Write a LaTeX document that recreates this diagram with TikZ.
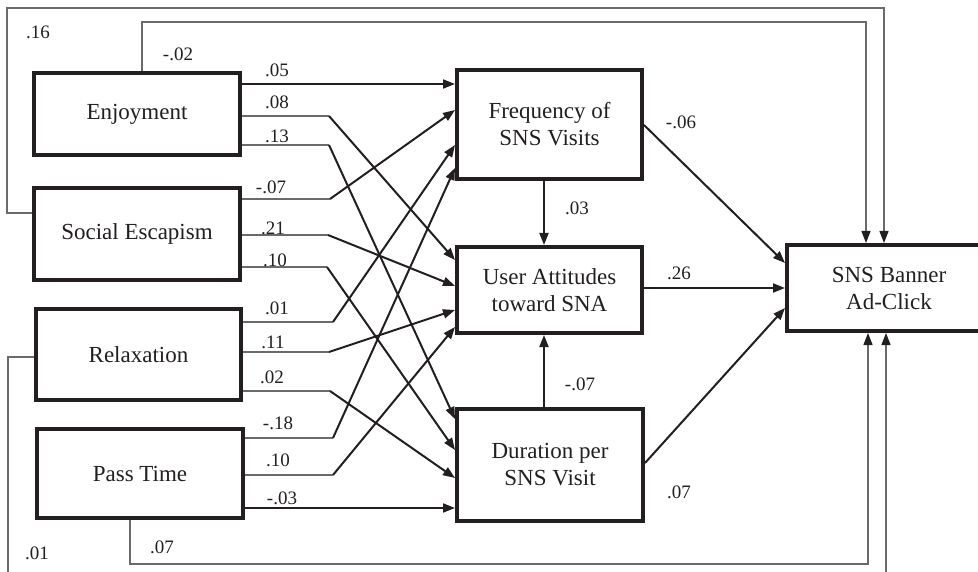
\documentclass[tikz,border=0pt]{standalone}
\usepackage{fontspec}
\setmainfont{Liberation Serif}
\usetikzlibrary{arrows.meta}
\definecolor{ink}{HTML}{231F20}
\definecolor{thin}{HTML}{6A6A6A}
\tikzset{
  box/.style={draw=ink, line width=4pt, align=center, text=ink,
    font=\fontsize{23}{27}\selectfont, inner sep=0pt},
  lbl/.style={font=\fontsize{19}{21}\selectfont, inner sep=0pt, text=ink},
  stub/.style={draw=thin, line width=1.3pt},
  arr/.style={draw=ink, line width=2pt, -{Triangle[length=12pt,width=9pt]}},
  loopln/.style={draw=thin, line width=1.3pt, -{Triangle[length=12pt,width=9pt,color=ink]}},
}
\begin{document}
\begin{tikzpicture}[x=1pt,y=-1pt]
\useasboundingbox (0,0) rectangle (978,572);
\clip (0,0) rectangle (978,572);
\fill[white] (0,0) rectangle (978,572);

% boxes
\node[box, minimum width=206pt, minimum height=82pt] (enj) at (137,114) {Enjoyment};
\node[box, minimum width=206pt, minimum height=92pt] (se) at (137,234) {Social Escapism};
\node[box, minimum width=205pt, minimum height=91pt] (rel) at (138.5,354.5) {Relaxation};
\node[box, minimum width=206pt, minimum height=89pt] (pt) at (140,473.5) {Pass Time};
\node[box, minimum width=185pt, minimum height=109pt] (freq) at (549.5,124.5) {Frequency of\\SNS Visits};
\node[box, minimum width=185pt, minimum height=86pt] (ua) at (549.5,290) {User Attitudes\\toward SNA};
\node[box, minimum width=186pt, minimum height=112pt] (dur) at (550,465) {Duration per\\SNS Visit};
\node[box, minimum width=204pt, minimum height=86pt] (sns) at (889,288) {SNS Banner\\Ad-Click};

% Enjoyment
\draw[arr] (enj.east |- 0,84) -- (freq.west |- 0,84);
\coordinate (e2) at (329,116);
\draw[stub] (enj.east |- e2) -- (e2);
\draw[arr] (e2) -- (ua.west |- 0,260);
\coordinate (e3) at (329,145);
\draw[stub] (enj.east |- e3) -- (e3);
\draw[arr] (e3) -- (dur.west |- 0,419);

% Social Escapism
\coordinate (s1) at (330,199);
\draw[stub] (se.east |- s1) -- (s1);
\draw[arr] (s1) -- (freq.west |- 0,110);
\coordinate (s2) at (328,235);
\draw[stub] (se.east |- s2) -- (s2);
\draw[arr] (s2) -- (ua.west |- 0,286);
\coordinate (s3) at (327,267);
\draw[stub] (se.east |- s3) -- (s3);
\draw[arr] (s3) -- (dur.west |- 0,450);

% Relaxation
\coordinate (r1) at (333,322);
\draw[stub] (rel.east |- r1) -- (r1);
\draw[arr] (r1) -- (freq.west |- 0,145);
\coordinate (r2) at (329,352);
\draw[stub] (rel.east |- r2) -- (r2);
\draw[arr] (r2) -- (ua.west |- 0,310);
\coordinate (r3) at (330,391);
\draw[stub] (rel.east |- r3) -- (r3);
\draw[arr] (r3) -- (dur.west |- 0,478);

% Pass Time
\coordinate (p1) at (333,438);
\draw[stub] (pt.east |- p1) -- (p1);
\draw[arr] (p1) -- (freq.west |- 0,168);
\coordinate (p2) at (333,475);
\draw[stub] (pt.east |- p2) -- (p2);
\draw[arr] (p2) -- (ua.west |- 0,327);
\draw[arr] (pt.east |- 0,508) -- (dur.west |- 0,508);

% middle
\draw[arr] (freq.south -| 544,0) -- (ua.north -| 544,0);
\draw[arr] (dur.north -| 544,0) -- (ua.south -| 544,0);
\draw[arr] (freq.east |- 0,125) -- (sns.west |- 0,263);
\draw[arr] (ua.east |- 0,288) -- (sns.west |- 0,288);
\draw[arr] (dur.east |- 0,463) -- (sns.west |- 0,308);

% outer loops
\draw[loopln] (se.west |- 0,213) -- (7,213) -- (7,8) -- (884,8) -- (sns.north -| 884,0);
\draw[loopln] (enj.north -| 142,0) -- (142,22) -- (866,22) -- (sns.north -| 866,0);
\draw[loopln] (pt.south -| 130,0) -- (130,564) -- (868,564) -- (sns.south -| 868,0);
\draw[loopln] (rel.west |- 0,357) -- (8,357) -- (8,590) -- (886,590) -- (sns.south -| 886,0);

% labels
\node[lbl] (l16) at (38,32) {.16};
\node[lbl] (l02a) at (178,54) {-.02};
\node[lbl] (l05) at (277,70) {.05};
\node[lbl] (l08) at (277,102) {.08};
\node[lbl] (l13) at (277,136) {.13};
\node[lbl] (l07a) at (271,187) {-.07};
\node[lbl] (l21) at (273,228) {.21};
\node[lbl] (l10a) at (275,260) {.10};
\node[lbl] (l01a) at (277,308) {.01};
\node[lbl] (l11) at (273,342) {.11};
\node[lbl] (l02) at (272,377) {.02};
\node[lbl] (l18) at (278,423) {-.18};
\node[lbl] (l10b) at (278,460) {.10};
\node[lbl] (l03a) at (282,498) {-.03};
\node[lbl] (l07b) at (162,547) {.07};
\node[lbl] (l01b) at (37,553) {.01};
\node[lbl] (l03) at (577,208) {.03};
\node[lbl] (l07c) at (580,384) {-.07};
\node[lbl] (l06) at (681,122) {-.06};
\node[lbl] (l26) at (679,273) {.26};
\node[lbl] (l07d) at (679,492) {.07};
\end{tikzpicture}
\end{document}
